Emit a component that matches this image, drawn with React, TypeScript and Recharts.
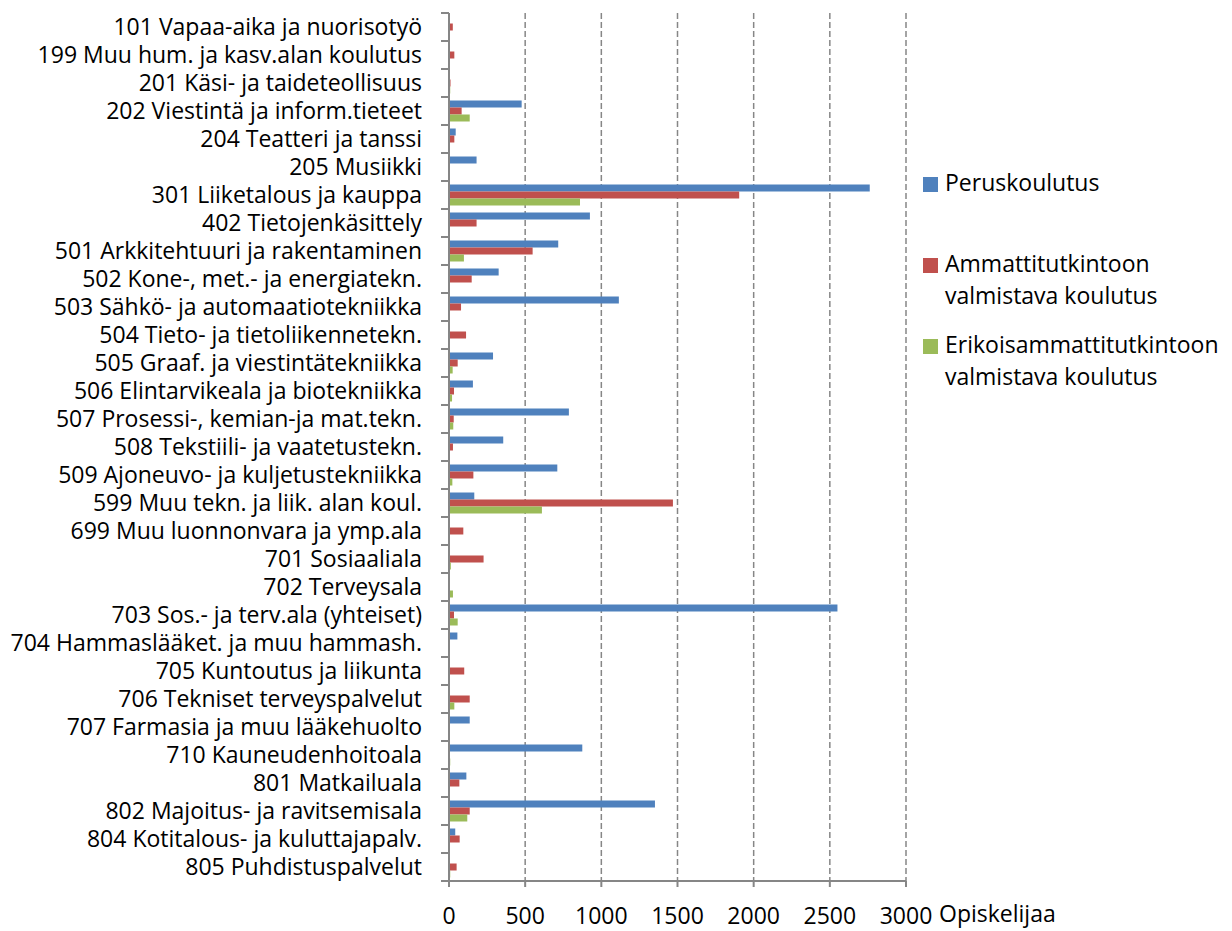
import React from 'react'
import { Bar, BarChart, CartesianGrid, XAxis, YAxis } from 'recharts'

const categories = [
  '101 Vapaa-aika ja nuorisotyö',
  '199 Muu hum. ja kasv.alan koulutus',
  '201 Käsi- ja taideteollisuus',
  '202 Viestintä ja inform.tieteet',
  '204 Teatteri ja tanssi',
  '205 Musiikki',
  '301 Liiketalous ja kauppa',
  '402 Tietojenkäsittely',
  '501 Arkkitehtuuri ja rakentaminen',
  '502 Kone-, met.- ja energiatekn.',
  '503 Sähkö- ja automaatiotekniikka',
  '504 Tieto- ja tietoliikennetekn.',
  '505 Graaf. ja viestintätekniikka',
  '506 Elintarvikeala ja biotekniikka',
  '507 Prosessi-, kemian-ja mat.tekn.',
  '508 Tekstiili- ja vaatetustekn.',
  '509 Ajoneuvo- ja kuljetustekniikka',
  '599 Muu tekn. ja liik. alan koul.',
  '699 Muu luonnonvara ja ymp.ala',
  '701 Sosiaaliala',
  '702 Terveysala',
  '703 Sos.- ja terv.ala (yhteiset)',
  '704 Hammaslääket. ja muu hammash.',
  '705 Kuntoutus ja liikunta',
  '706 Tekniset terveyspalvelut',
  '707 Farmasia ja muu lääkehuolto',
  '710 Kauneudenhoitoala',
  '801 Matkailuala',
  '802 Majoitus- ja ravitsemisala',
  '804 Kotitalous- ja kuluttajapalv.',
  '805 Puhdistuspalvelut',
]

const peruskoulutus = [0, 0, 0, 477, 44, 181, 2762, 925, 717, 326, 1115, 0, 289, 157, 787, 356, 711, 166, 0, 0, 0, 2550, 55, 0, 0, 136, 875, 114, 1352, 41, 0]
const ammattitutkinto = [25, 35, 10, 83, 35, 0, 1905, 181, 549, 149, 79, 112, 57, 33, 31, 26, 160, 1470, 94, 227, 0, 33, 0, 100, 136, 0, 0, 68, 136, 70, 50]
const erikoisammatti = [0, 0, 8, 136, 0, 0, 860, 0, 98, 0, 0, 0, 24, 20, 28, 0, 22, 610, 0, 12, 26, 57, 0, 0, 35, 0, 8, 0, 120, 0, 8]

const xTicks = [0, 500, 1000, 1500, 2000, 2500, 3000]

const series = [
  { key: 'perus', lines: ['Peruskoulutus'], color: '#4F81BD' },
  { key: 'ammatti', lines: ['Ammattitutkintoon', 'valmistava koulutus'], color: '#C0504D' },
  { key: 'erikois', lines: ['Erikoisammattitutkintoon', 'valmistava koulutus'], color: '#9BBB59' },
]

const data = categories.map((name, i) => ({
  name,
  perus: peruskoulutus[i],
  ammatti: ammattitutkinto[i],
  erikois: erikoisammatti[i],
}))

const FONT = '"Open Sans", sans-serif'
const FS = 23
const W = 1232
const H = 931
const PLOT_LEFT = 449
const PLOT_TOP = 13
const PLOT_BOTTOM = 881
const PLOT_RIGHT = 906
const axisColor = '#868686'
const band = (PLOT_BOTTOM - PLOT_TOP) / categories.length

const CategoryTick = (props: any) => {
  const { y, payload, index } = props
  return (
    <g>
      <text x={PLOT_LEFT - 27} y={y} dy="0.35em" textAnchor="end" fontSize={FS} fontFamily={FONT} fill="#000">
        {payload.value}
      </text>
      <line x1={PLOT_LEFT - 8} x2={PLOT_LEFT} y1={y - band / 2} y2={y - band / 2} stroke={axisColor} strokeWidth={2} />
      {index === categories.length - 1 && (
        <line x1={PLOT_LEFT - 8} x2={PLOT_LEFT} y1={y + band / 2} y2={y + band / 2} stroke={axisColor} strokeWidth={2} />
      )}
    </g>
  )
}

const legendTops = [166, 247, 328]

const LegendBox = () => (
  <div style={{ fontFamily: FONT, fontSize: FS, color: '#000', lineHeight: '32px' }}>
    {series.map((s, i) => (
      <div key={s.key} style={{ position: 'absolute', left: 923, top: legendTops[i], width: 309 }}>
        <span style={{ position: 'absolute', left: 0, top: 11, width: 15, height: 15, background: s.color }} />
        {s.lines.map((ln) => (
          <div key={ln} style={{ marginLeft: 22, height: 32, whiteSpace: 'nowrap' }}>{ln}</div>
        ))}
      </div>
    ))}
  </div>
)

export default function App() {
  return (
    <div style={{ position: 'absolute', left: 0, top: 0, width: W, height: H, background: '#fff' }}>
      <BarChart
        width={W}
        height={H}
        data={data}
        layout="vertical"
        margin={{ top: PLOT_TOP, right: W - PLOT_RIGHT, bottom: 0, left: 0 }}
        barCategoryGap="12.5%"
        barGap={0}
      >
        <CartesianGrid horizontal={false} stroke={axisColor} strokeWidth={1.5} strokeDasharray="6 3" />
        <XAxis
          type="number"
          domain={[0, 3000]}
          ticks={xTicks}
          interval={0}
          height={H - PLOT_BOTTOM}
          stroke={axisColor}
          strokeWidth={2}
          tickSize={6}
          tickMargin={21}
          tick={{ fill: '#000', fontSize: FS, fontFamily: FONT }}
        />
        <YAxis
          type="category"
          dataKey="name"
          width={PLOT_LEFT}
          interval={0}
          tickLine={false}
          stroke={axisColor}
          strokeWidth={2}
          tick={<CategoryTick />}
        />
        {series.map((s) => (
          <Bar key={s.key} dataKey={s.key} name={s.lines.join(' ')} fill={s.color} isAnimationActive={false} />
        ))}
      </BarChart>
      <LegendBox />
      <div style={{ position: 'absolute', left: 939, top: 897, fontFamily: FONT, fontSize: FS, lineHeight: '32px', color: '#000' }}>
        Opiskelijaa
      </div>
    </div>
  )
}
